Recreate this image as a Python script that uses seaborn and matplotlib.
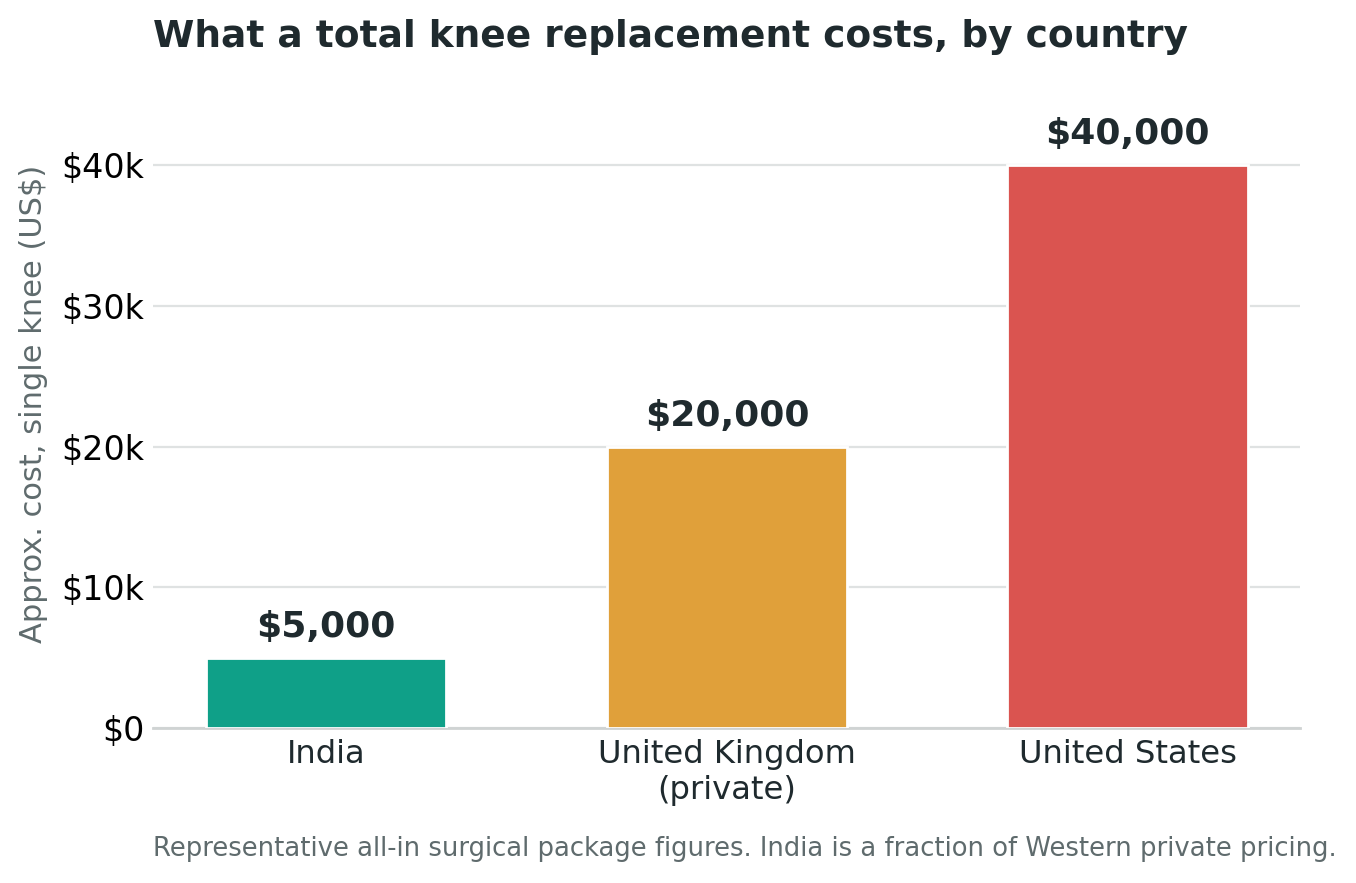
import matplotlib
matplotlib.use("Agg")
import matplotlib.pyplot as plt
import seaborn as sns
import pandas as pd

countries = ["India", "United Kingdom\n(private)", "United States"]
costs = [5000, 20000, 40000]
value_labels = ["$5,000", "$20,000", "$40,000"]
colors = ["#0fa088", "#e0a03a", "#da5450"]
ytick_vals = [0, 10000, 20000, 30000, 40000]
ytick_labels = ["$0", "$10k", "$20k", "$30k", "$40k"]

sns.set_theme(style="white")
plt.rcParams['font.family'] = ['DejaVu Sans']

df = pd.DataFrame({"country": countries, "cost": costs})

fig = plt.figure(figsize=(6.78, 4.415), dpi=200)
ax = fig.add_axes([0.1128, 0.1755, 0.8459, (728 - 80.5) / 883])

sns.barplot(data=df, x="country", y="cost", hue="country", palette=colors,
            saturation=1, width=0.6, edgecolor="white", linewidth=1.0,
            legend=False, ax=ax, zorder=3)

ax.set_xlim(-0.432, 2.43)
ax.set_ylim(0, 46000)
ax.set_yticks(ytick_vals)
ax.set_yticklabels(ytick_labels, fontsize=12, color="black")
ax.tick_params(axis="x", labelsize=11.6, labelcolor="#1f2a2e", length=0, pad=4)
ax.tick_params(axis="y", length=0, pad=3)
ax.yaxis.grid(True, color="#dfe2e2", linewidth=0.8, zorder=0)
ax.set_axisbelow(True)
for s in ["top", "right", "left"]:
    ax.spines[s].set_visible(False)
ax.spines["bottom"].set_color("#cfd3d3")
ax.spines["bottom"].set_linewidth(1.0)
ax.set_xlabel("")
ax.set_ylabel("Approx. cost, single knee (US$)", fontsize=11, color="#5f6b6d", labelpad=5)

for i, (v, lab) in enumerate(zip(costs, value_labels)):
    ax.annotate(lab, (i, v), xytext=(0, 5), textcoords="offset points",
                ha="center", va="bottom", fontsize=13, fontweight="bold", color="#1f2a2e")

fig.text(0.1128, 0.958, "What a total knee replacement costs, by country",
         fontsize=13.5, fontweight="bold", color="#1f2a2e", ha="left", va="center")
fig.text(0.1128, 0.038, "Representative all-in surgical package figures. India is a fraction of Western private pricing.",
         fontsize=9.3, color="#5f6b6d", ha="left", va="center")

fig.savefig("out.png", dpi=200)
